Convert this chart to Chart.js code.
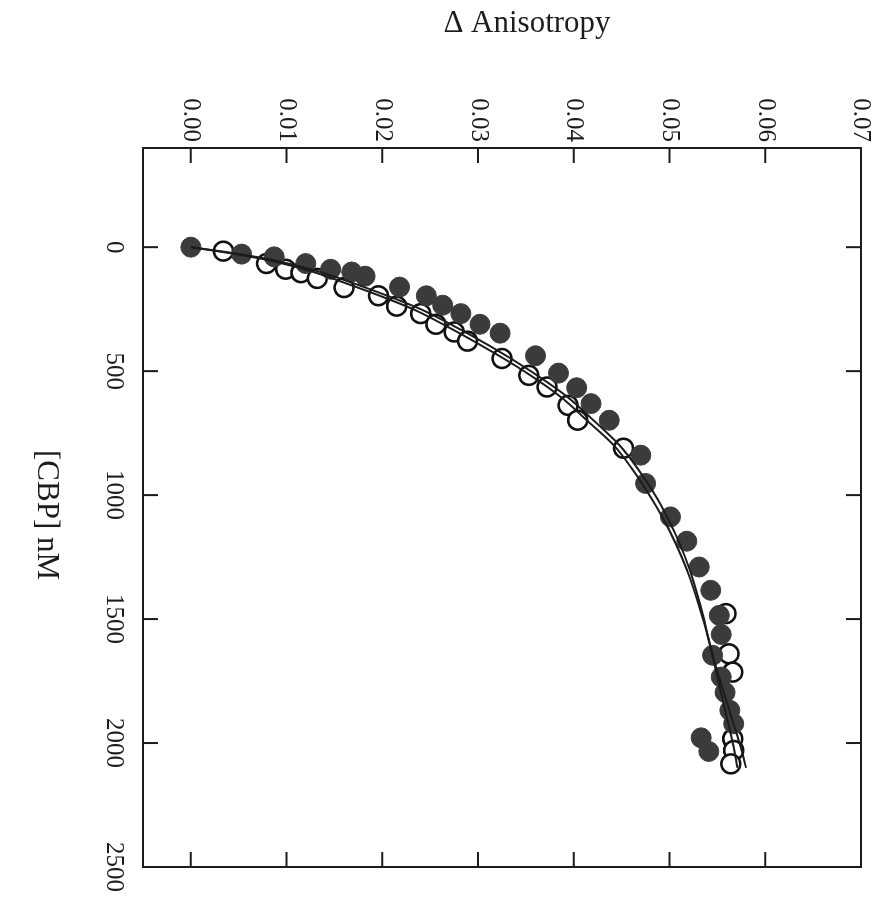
<!DOCTYPE html>
<html>
<head>
<meta charset="utf-8">
<script src="https://cdn.jsdelivr.net/npm/chart.js@4.4.0/dist/chart.umd.min.js"></script>
<style>
  html, body { margin: 0; padding: 0; background: #fff; overflow: hidden; }
  /* plot is laid out upright, then turned a quarter clockwise */
  #wrap { position: absolute; left: 0; top: 0; width: 907px; height: 882px;
          transform-origin: 0 0; transform: translateX(882px) rotate(90deg); }
</style>
</head>
<body>
<div id="wrap"><canvas id="bindingChart" width="907" height="882"></canvas></div>
<script>
// titration with CBP, filled symbols
const filledConc = [0, 28, 39, 66, 89, 100, 117, 161, 196, 234, 268, 311, 347, 438, 508, 567, 631, 698,
                    839, 953, 1088, 1186, 1290, 1384, 1485, 1562, 1646, 1734, 1796, 1868, 1922, 1979, 2034];
const filledAniso = [0.0000, 0.0053, 0.0087, 0.0120, 0.0146, 0.0168, 0.0182, 0.0218, 0.0246, 0.0263, 0.0282,
                     0.0302, 0.0323, 0.0360, 0.0384, 0.0403, 0.0418, 0.0437, 0.0470, 0.0475, 0.0501, 0.0518,
                     0.0531, 0.0543, 0.0552, 0.0554, 0.0545, 0.0554, 0.0558, 0.0563, 0.0567, 0.0533, 0.0541];

// titration with CBP, open symbols
const openConc = [16, 66, 89, 103, 126, 163, 196, 238, 268, 311, 342, 379, 449, 517, 564, 638, 698, 811,
                  1478, 1640, 1714, 1983, 2030, 2084];
const openAniso = [0.0034, 0.0079, 0.0099, 0.0115, 0.0132, 0.0160, 0.0196, 0.0215, 0.0240, 0.0256, 0.0275,
                   0.0289, 0.0325, 0.0353, 0.0372, 0.0394, 0.0404, 0.0452, 0.0559, 0.0562, 0.0566, 0.0566,
                   0.0567, 0.0564];

// fitted binding curves
const fitConc = [0, 25, 50, 75, 100, 150, 200, 250, 300, 400, 500, 600, 700, 800, 900, 1000,
                 1100, 1200, 1300, 1400, 1500, 1600, 1700, 1800, 1900, 2000, 2100];
const fitFilled = [0, 0.0046, 0.0083, 0.0111, 0.0135, 0.0173, 0.0208, 0.0240, 0.0266, 0.0313, 0.0355,
                   0.0392, 0.0421, 0.0448, 0.0468, 0.0485, 0.0499, 0.0511, 0.0521, 0.0529, 0.0536,
                   0.0542, 0.0548, 0.0554, 0.0560, 0.0566, 0.0571];
const fitOpen = [0, 0.0042, 0.0078, 0.0105, 0.0128, 0.0165, 0.0200, 0.0232, 0.0258, 0.0305, 0.0348,
                 0.0385, 0.0414, 0.0442, 0.0462, 0.0479, 0.0494, 0.0507, 0.0518, 0.0527, 0.0535,
                 0.0542, 0.0549, 0.0557, 0.0565, 0.0573, 0.0580];

const concTicks = [0, 500, 1000, 1500, 2000, 2500];
const anisoTicks = [0, 0.01, 0.02, 0.03, 0.04, 0.05, 0.06, 0.07];

const serif = '"Liberation Serif", "Times New Roman", serif';
const ink = '#1c1c1c';

function pairs(xs, ys) {
  return xs.map((x, i) => ({ x: x, y: ys[i] }));
}

// box, inward ticks on all four sides, and the axis titles
const frameAndTitles = {
  id: 'frameAndTitles',
  afterDraw(chart) {
    const ctx = chart.ctx;
    const a = chart.chartArea;
    const xs = chart.scales.x, ys = chart.scales.y;
    const len = 15;
    ctx.save();
    ctx.strokeStyle = ink;
    ctx.lineWidth = 2;
    ctx.strokeRect(a.left, a.top, a.right - a.left, a.bottom - a.top);
    ctx.beginPath();
    concTicks.forEach(v => {
      const p = xs.getPixelForValue(v);
      ctx.moveTo(p, a.bottom); ctx.lineTo(p, a.bottom - len);
      ctx.moveTo(p, a.top); ctx.lineTo(p, a.top + len);
    });
    anisoTicks.forEach(v => {
      const p = ys.getPixelForValue(v);
      ctx.moveTo(a.left, p); ctx.lineTo(a.left + len, p);
      ctx.moveTo(a.right, p); ctx.lineTo(a.right - len, p);
    });
    ctx.stroke();

    ctx.fillStyle = ink;
    ctx.font = '31px ' + serif;
    ctx.textAlign = 'center';
    ctx.textBaseline = 'middle';
    ctx.fillText('[CBP] nM', 515, 836);
    ctx.translate(24, 355);
    ctx.rotate(-Math.PI / 2);
    ctx.fillText('\u0394 Anisotropy', 0, 0);
    ctx.restore();
  }
};

new Chart(document.getElementById('bindingChart'), {
  type: 'scatter',
  data: {
    datasets: [
      {
        label: 'fit (filled)',
        data: pairs(fitConc, fitFilled),
        showLine: true,
        pointRadius: 0,
        borderColor: ink,
        borderWidth: 2,
        cubicInterpolationMode: 'monotone',
        order: 1
      },
      {
        label: 'fit (open)',
        data: pairs(fitConc, fitOpen),
        showLine: true,
        pointRadius: 0,
        borderColor: ink,
        borderWidth: 2,
        cubicInterpolationMode: 'monotone',
        order: 1
      },
      {
        label: 'filled',
        data: pairs(filledConc, filledAniso),
        pointRadius: 10,
        pointBackgroundColor: '#3b3b3b',
        pointBorderColor: '#3b3b3b',
        pointBorderWidth: 1,
        order: 2
      },
      {
        label: 'open',
        data: pairs(openConc, openAniso),
        pointRadius: 9.5,
        pointBackgroundColor: '#ffffff',
        pointBorderColor: '#111111',
        pointBorderWidth: 2.5,
        order: 3
      }
    ]
  },
  options: {
    responsive: false,
    animation: false,
    devicePixelRatio: 1,
    layout: { padding: { top: 20, right: 40, bottom: 0, left: 0 } },
    plugins: {
      legend: { display: false },
      tooltip: { enabled: false }
    },
    scales: {
      x: {
        type: 'linear',
        position: 'bottom',
        min: -400,
        max: 2500,
        afterBuildTicks: s => { s.ticks = concTicks.map(v => ({ value: v })); },
        afterFit: s => { s.height = 143; },
        grid: { display: false, drawTicks: false },
        border: { display: false },
        ticks: {
          color: ink,
          font: { family: serif, size: 25 },
          padding: 14,
          maxRotation: 0,
          callback: v => String(v)
        }
      },
      y: {
        type: 'linear',
        position: 'left',
        min: -0.005,
        max: 0.07,
        afterBuildTicks: s => { s.ticks = anisoTicks.map(v => ({ value: v })); },
        afterFit: s => { s.width = 148; },
        grid: { display: false, drawTicks: false },
        border: { display: false },
        ticks: {
          color: ink,
          font: { family: serif, size: 25 },
          padding: 6,
          callback: v => v.toFixed(2)
        }
      }
    }
  },
  plugins: [frameAndTitles]
});
</script>
</body>
</html>
